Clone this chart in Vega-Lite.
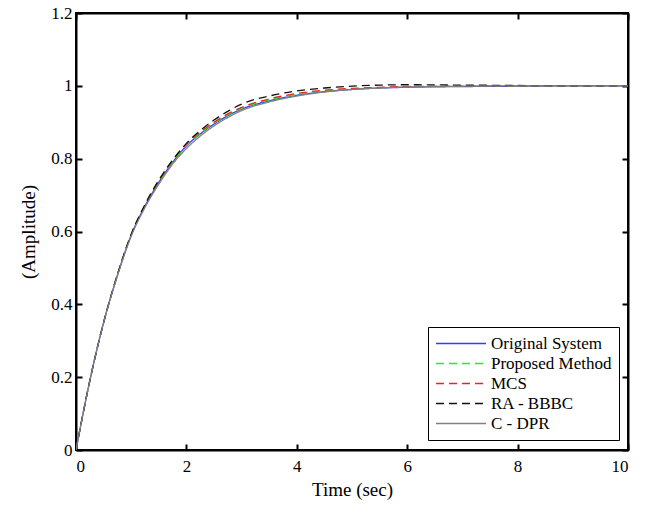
{
  "$schema": "https://vega.github.io/schema/vega-lite/v6.json",
  "width": 552,
  "height": 437,
  "autosize": {"type": "none"},
  "padding": {"left": 76, "top": 13, "right": 20, "bottom": 59},
  "background": "white",
  "config": {
    "view": {"stroke": "black", "strokeWidth": 2},
    "font": "Liberation Serif",
    "axis": {
      "domainColor": "black", "domainWidth": 2, "tickColor": "black", "tickWidth": 2,
      "tickSize": -6, "grid": false, "labelFont": "Liberation Serif", "labelFontSize": 17,
      "labelColor": "black", "titleFont": "Liberation Serif", "titleFontSize": 19,
      "titleFontWeight": "normal", "titleColor": "black"
    }
  },
  "datasets": {
    "curves": [
      {"t":0,"y":0,"s":"Original System"},{"t":0.25,"y":0.19,"s":"Original System"},{"t":0.5,"y":0.35,"s":"Original System"},{"t":0.75,"y":0.48,"s":"Original System"},{"t":1,"y":0.59,"s":"Original System"},{"t":1.25,"y":0.67,"s":"Original System"},{"t":1.5,"y":0.735,"s":"Original System"},{"t":1.75,"y":0.79,"s":"Original System"},{"t":2,"y":0.835,"s":"Original System"},{"t":2.25,"y":0.868,"s":"Original System"},{"t":2.5,"y":0.895,"s":"Original System"},{"t":2.75,"y":0.918,"s":"Original System"},{"t":3,"y":0.936,"s":"Original System"},{"t":3.5,"y":0.959,"s":"Original System"},{"t":4,"y":0.974,"s":"Original System"},{"t":4.5,"y":0.984,"s":"Original System"},{"t":5,"y":0.99,"s":"Original System"},{"t":5.5,"y":0.994,"s":"Original System"},{"t":6,"y":0.996,"s":"Original System"},{"t":7,"y":0.998,"s":"Original System"},{"t":8,"y":0.999,"s":"Original System"},{"t":9,"y":1,"s":"Original System"},{"t":10,"y":1,"s":"Original System"},
      {"t":0,"y":0,"s":"Proposed Method"},{"t":0.25,"y":0.19,"s":"Proposed Method"},{"t":0.5,"y":0.35,"s":"Proposed Method"},{"t":0.75,"y":0.481,"s":"Proposed Method"},{"t":1,"y":0.591,"s":"Proposed Method"},{"t":1.25,"y":0.672,"s":"Proposed Method"},{"t":1.5,"y":0.737,"s":"Proposed Method"},{"t":1.75,"y":0.792,"s":"Proposed Method"},{"t":2,"y":0.837,"s":"Proposed Method"},{"t":2.25,"y":0.87,"s":"Proposed Method"},{"t":2.5,"y":0.897,"s":"Proposed Method"},{"t":2.75,"y":0.92,"s":"Proposed Method"},{"t":3,"y":0.938,"s":"Proposed Method"},{"t":3.5,"y":0.961,"s":"Proposed Method"},{"t":4,"y":0.976,"s":"Proposed Method"},{"t":4.5,"y":0.986,"s":"Proposed Method"},{"t":5,"y":0.991,"s":"Proposed Method"},{"t":5.5,"y":0.995,"s":"Proposed Method"},{"t":6,"y":0.997,"s":"Proposed Method"},{"t":7,"y":0.999,"s":"Proposed Method"},{"t":8,"y":1,"s":"Proposed Method"},{"t":9,"y":1,"s":"Proposed Method"},{"t":10,"y":1,"s":"Proposed Method"},
      {"t":0,"y":0,"s":"MCS"},{"t":0.25,"y":0.19,"s":"MCS"},{"t":0.5,"y":0.35,"s":"MCS"},{"t":0.75,"y":0.481,"s":"MCS"},{"t":1,"y":0.592,"s":"MCS"},{"t":1.25,"y":0.673,"s":"MCS"},{"t":1.5,"y":0.739,"s":"MCS"},{"t":1.75,"y":0.795,"s":"MCS"},{"t":2,"y":0.84,"s":"MCS"},{"t":2.25,"y":0.873,"s":"MCS"},{"t":2.5,"y":0.9,"s":"MCS"},{"t":2.75,"y":0.923,"s":"MCS"},{"t":3,"y":0.941,"s":"MCS"},{"t":3.5,"y":0.964,"s":"MCS"},{"t":4,"y":0.979,"s":"MCS"},{"t":4.5,"y":0.988,"s":"MCS"},{"t":5,"y":0.993,"s":"MCS"},{"t":5.5,"y":0.996,"s":"MCS"},{"t":6,"y":0.998,"s":"MCS"},{"t":7,"y":0.999,"s":"MCS"},{"t":8,"y":1,"s":"MCS"},{"t":9,"y":1,"s":"MCS"},{"t":10,"y":1,"s":"MCS"},
      {"t":0,"y":0,"s":"RA - BBBC"},{"t":0.25,"y":0.19,"s":"RA - BBBC"},{"t":0.5,"y":0.35,"s":"RA - BBBC"},{"t":0.75,"y":0.481,"s":"RA - BBBC"},{"t":1,"y":0.592,"s":"RA - BBBC"},{"t":1.25,"y":0.674,"s":"RA - BBBC"},{"t":1.5,"y":0.741,"s":"RA - BBBC"},{"t":1.75,"y":0.796,"s":"RA - BBBC"},{"t":2,"y":0.842,"s":"RA - BBBC"},{"t":2.25,"y":0.877,"s":"RA - BBBC"},{"t":2.5,"y":0.906,"s":"RA - BBBC"},{"t":2.75,"y":0.93,"s":"RA - BBBC"},{"t":3,"y":0.95,"s":"RA - BBBC"},{"t":3.5,"y":0.972,"s":"RA - BBBC"},{"t":4,"y":0.986,"s":"RA - BBBC"},{"t":4.5,"y":0.994,"s":"RA - BBBC"},{"t":5,"y":0.999,"s":"RA - BBBC"},{"t":5.5,"y":1.002,"s":"RA - BBBC"},{"t":6,"y":1.003,"s":"RA - BBBC"},{"t":7,"y":1.002,"s":"RA - BBBC"},{"t":8,"y":1.001,"s":"RA - BBBC"},{"t":9,"y":1,"s":"RA - BBBC"},{"t":10,"y":1,"s":"RA - BBBC"},
      {"t":0,"y":0,"s":"C - DPR"},{"t":0.25,"y":0.19,"s":"C - DPR"},{"t":0.5,"y":0.349,"s":"C - DPR"},{"t":0.75,"y":0.478,"s":"C - DPR"},{"t":1,"y":0.587,"s":"C - DPR"},{"t":1.25,"y":0.666,"s":"C - DPR"},{"t":1.5,"y":0.73,"s":"C - DPR"},{"t":1.75,"y":0.785,"s":"C - DPR"},{"t":2,"y":0.828,"s":"C - DPR"},{"t":2.25,"y":0.862,"s":"C - DPR"},{"t":2.5,"y":0.89,"s":"C - DPR"},{"t":2.75,"y":0.913,"s":"C - DPR"},{"t":3,"y":0.932,"s":"C - DPR"},{"t":3.5,"y":0.956,"s":"C - DPR"},{"t":4,"y":0.972,"s":"C - DPR"},{"t":4.5,"y":0.983,"s":"C - DPR"},{"t":5,"y":0.99,"s":"C - DPR"},{"t":5.5,"y":0.994,"s":"C - DPR"},{"t":6,"y":0.997,"s":"C - DPR"},{"t":7,"y":0.999,"s":"C - DPR"},{"t":8,"y":1,"s":"C - DPR"},{"t":9,"y":1,"s":"C - DPR"},{"t":10,"y":1,"s":"C - DPR"}
    ]
  },
  "data": {"name": "curves"},
  "layer": [
    {
      "mark": {"type": "line", "strokeWidth": 1.3, "interpolate": "monotone", "clip": true},
      "encoding": {
        "x": {"field": "t", "type": "quantitative", "scale": {"domain": [0, 10], "nice": false},
              "axis": {"values": [0, 2, 4, 6, 8, 10], "format": "d", "title": "Time (sec)", "labelPadding": 14, "titlePadding": 6}},
        "y": {"field": "y", "type": "quantitative", "scale": {"domain": [0, 1.2], "nice": false, "zero": true},
              "axis": {"values": [0, 0.2, 0.4, 0.6, 0.8, 1, 1.2], "format": "~g", "title": "(Amplitude)", "labelPadding": 10, "titlePadding": 12}},
        "color": {"field": "s", "type": "nominal",
          "scale": {"domain": ["Original System", "Proposed Method", "MCS", "RA - BBBC", "C - DPR"],
                    "range": ["#3a3aff", "#22ee22", "#ee2020", "#111111", "#808080"]},
          "legend": {
            "title": null, "orient": "none", "legendX": 352, "legendY": 314,
            "symbolType": "stroke", "symbolSize": 2500, "symbolStrokeWidth": 1.5,
            "clipHeight": 19,
            "labelFont": "Liberation Serif", "labelFontSize": 17, "labelColor": "black",
            "strokeColor": "black", "fillColor": "white", "padding": 7, "rowPadding": 1,
            "labelOffset": 4, "labelLimit": 200
          }},
        "strokeDash": {"field": "s", "type": "nominal",
          "scale": {"domain": ["Original System", "Proposed Method", "MCS", "RA - BBBC", "C - DPR"],
                    "range": [[1, 0], [8, 5], [8, 5], [8, 5], [1, 0]]},
          "legend": null},
        "order": {"field": "t"}
      }
    },
    {
      "mark": {"type": "rule", "opacity": 0},
      "encoding": {
        "x": {"field": "t", "type": "quantitative", "axis": {"orient": "top", "values": [0, 2, 4, 6, 8, 10], "labels": false, "title": null}},
        "y": {"field": "y", "type": "quantitative", "axis": {"orient": "right", "values": [0, 0.2, 0.4, 0.6, 0.8, 1, 1.2], "labels": false, "title": null}}
      }
    }
  ],
  "resolve": {"axis": {"x": "independent", "y": "independent"}}
}
